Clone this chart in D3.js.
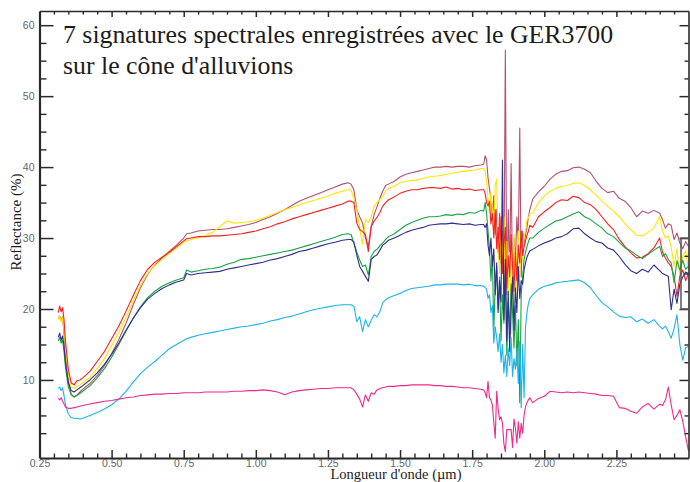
<!DOCTYPE html>
<html>
<head>
<meta charset="utf-8">
<script src="https://cdn.jsdelivr.net/npm/d3@7"></script>
<style>
  html, body { margin: 0; padding: 0; background: #fff; }
  svg { display: block; }
</style>
</head>
<body>
<svg id="chart" width="690" height="482"></svg>
<script>
// Wavelength sampling (µm), denser around the 1.4 and 1.9 µm water bands
const wavelengths = [
  0.315, 0.32, 0.325, 0.33, 0.335, 0.34, 0.35, 0.36, 0.37, 0.38, 0.39, 0.40,
  0.425, 0.45, 0.475, 0.50, 0.525, 0.55, 0.575, 0.60, 0.625, 0.65, 0.675, 0.70, 0.725, 0.75,
  0.76,
  0.775, 0.80, 0.825, 0.85, 0.875, 0.90, 0.925, 0.95, 0.975, 1.00, 1.025, 1.05, 1.075, 1.10, 1.125, 1.15, 1.175, 1.20, 1.225, 1.25, 1.275, 1.30,
  1.32, 1.33, 1.34, 1.35, 1.36, 1.37, 1.38, 1.39, 1.40, 1.41, 1.42, 1.43, 1.44, 1.45, 1.46,
  1.48, 1.50, 1.52, 1.54, 1.56, 1.58, 1.60, 1.62, 1.64, 1.66, 1.68, 1.70, 1.72, 1.74, 1.76, 1.78,
  1.790, 1.795, 1.800, 1.805, 1.810, 1.815, 1.820, 1.825, 1.830, 1.835, 1.840, 1.845, 1.850, 1.855, 1.860, 1.865,
  1.870, 1.875, 1.880, 1.885, 1.890, 1.895, 1.900, 1.905, 1.910, 1.915, 1.920, 1.925, 1.930, 1.935, 1.940, 1.945, 1.950,
  1.96, 1.98, 2.00, 2.02, 2.04, 2.06, 2.08, 2.10, 2.12, 2.14, 2.16, 2.18, 2.20, 2.22, 2.24, 2.26, 2.28, 2.30, 2.32, 2.34, 2.36, 2.38, 2.40,
  2.41, 2.42, 2.43, 2.44, 2.45, 2.46, 2.47, 2.48, 2.49, 2.50
];

// Reflectance (%) of the seven signatures
const sigMauve = [
  18.6, 19.0, 18.4, 18.9, 16.5, 13.5, 9.8, 8.0, 7.6, 7.9, 8.3, 8.7,
  9.5, 10.6, 12.0, 13.7, 15.7, 18.0, 20.6, 23.0, 24.9, 26.2, 27.2, 28.1, 29.0, 30.0,
  30.6,
  30.7, 31.0, 31.1, 31.2, 31.2, 31.3, 31.5, 31.7, 31.9, 32.2, 32.6, 33.0, 33.5, 34.0, 34.6, 35.2, 35.6, 36.0, 36.4, 36.8, 37.2, 37.6,
  37.8, 37.6, 36.8, 34.0, 33.0, 32.1, 30.0, 28.8, 31.6, 33.3, 34.4, 35.6, 36.6, 37.4, 37.6,
  38.0, 38.6, 39.0, 39.2, 39.4, 39.6, 39.8, 40.0, 40.0, 40.1, 40.0, 40.1, 40.1, 40.0, 40.2, 40.3,
  40.4, 41.6, 41.0, 38.5, 37.0, 35.5, 33.0, 36.0, 30.5, 34.0, 28.0, 33.5, 26.5, 31.0, 24.0, 56.5,
  22.0, 34.0, 25.0, 40.5, 23.0, 30.0, 27.0, 33.0, 29.0, 45.5, 24.5, 31.0, 29.0, 30.5, 31.5, 33.0, 34.0,
  35.5, 36.5, 37.3, 38.3, 39.0, 39.4, 39.5, 39.9, 40.0, 39.7, 39.2, 38.0, 37.0, 36.4, 36.6, 35.6, 35.2, 34.3, 33.0, 33.8, 33.5, 33.9, 33.5,
  32.6, 31.4, 32.0, 31.8, 29.8, 30.7, 29.3, 28.5, 29.5, 28.8
];
const sigYellow = [
  18.5, 19.0, 18.2, 18.8, 17.0, 14.5, 10.8, 9.0, 8.8, 9.1, 9.3, 9.6,
  10.4, 11.6, 13.0, 14.8, 16.7, 18.8, 21.1, 23.3, 25.0, 26.1, 27.0, 27.8, 28.6, 29.4,
  29.6,
  29.8, 30.0, 30.4, 30.8, 31.6, 32.4, 32.1, 32.2, 32.3, 32.5, 32.8, 33.2, 33.6, 34.0, 34.3, 34.7, 35.0, 35.3, 35.6, 35.9, 36.3, 36.6,
  36.8, 36.8, 35.6, 34.0, 31.4, 29.1, 32.6, 32.2, 33.0, 34.5, 35.0, 35.4, 35.9, 36.6, 37.0,
  37.3, 37.8, 38.0, 38.1, 38.2, 38.4, 38.6, 38.7, 38.8, 39.0, 39.1, 39.3, 39.4, 39.5, 39.6, 39.8,
  39.8, 39.5, 38.0, 35.5, 33.6, 36.5, 34.0, 30.5, 37.5, 38.3, 29.0, 25.0, 31.0, 27.0, 33.0, 24.0,
  29.5, 22.0, 28.0, 16.5, 26.0, 30.5, 21.0, 27.0, 31.0, 24.5, 28.5, 27.0, 30.2, 31.0, 32.6, 32.8, 33.5,
  33.5, 35.0, 35.9, 36.6, 37.0, 37.3, 37.4, 37.7, 37.8, 37.4, 36.8, 36.0, 35.2, 34.5, 33.8, 33.0, 32.0, 31.2, 30.4, 30.3, 30.8, 31.4, 33.0,
  31.0, 30.0, 30.3, 28.8, 26.0, 28.5, 24.6, 27.5, 28.2, 25.5
];
const sigRed = [
  19.5, 20.4, 19.6, 20.2, 18.5, 15.5, 11.5, 9.6, 9.3, 9.9, 10.0, 10.3,
  11.2, 12.6, 14.0, 15.8, 17.6, 19.7, 21.9, 24.0, 25.6, 26.6, 27.3, 28.0, 28.8, 29.6,
  29.9,
  30.0, 30.2, 30.2, 30.3, 30.3, 30.4, 30.5, 30.6, 30.8, 31.0, 31.3, 31.6, 32.0, 32.3, 32.7, 33.0, 33.3, 33.6, 33.9, 34.2, 34.5, 34.8,
  35.2, 35.2, 35.0, 32.1, 31.2, 30.9, 30.5, 28.1, 31.6, 32.4, 32.9, 33.6, 34.5, 35.0, 35.4,
  35.8, 36.3, 36.6, 36.8, 36.8, 37.0, 37.1, 37.1, 37.0, 37.2, 36.9, 37.0, 36.8, 36.9, 36.7, 36.8,
  36.8, 36.3, 35.0, 34.5, 35.2, 32.0, 33.5, 30.0, 34.0, 28.5, 31.5, 27.0, 33.0, 25.0, 29.0, 31.5,
  23.0, 27.5, 24.5, 30.5, 26.0, 22.5, 28.0, 24.0, 29.0, 26.5, 31.0, 27.5, 28.8, 29.6, 30.4, 31.0, 31.8,
  31.5, 33.0, 33.7, 34.3, 35.0, 35.4, 35.3, 35.9, 35.7, 35.0, 34.7, 34.0, 33.0, 32.0, 31.2, 29.8, 28.8, 27.9, 27.2, 27.3, 27.8, 28.6, 30.0,
  28.0, 27.2, 26.5, 26.0, 24.6, 21.8, 24.6, 25.5, 24.0, 25.0
];
const sigGreen = [
  15.5, 16.0, 15.2, 15.6, 14.0, 11.8, 9.0, 7.9, 7.6, 7.8, 8.1, 8.4,
  9.2, 10.3, 11.6, 13.2, 15.0, 16.9, 18.7, 20.3, 21.6, 22.5, 23.2, 23.7, 24.1, 24.4,
  25.5,
  25.2, 25.4, 25.6, 25.7, 25.9, 26.3, 26.6, 27.0, 27.1, 27.3, 27.5, 27.7, 27.9, 28.1, 28.3, 28.6, 28.9, 29.2, 29.5, 29.8, 30.1, 30.5,
  30.6, 30.5, 29.3, 28.0, 26.9, 26.0, 26.2, 24.8, 27.4, 28.1, 28.4, 28.9, 29.3, 29.8, 30.2,
  30.6, 31.2, 31.8, 32.2, 32.5, 32.8, 33.0, 33.0, 33.1, 33.3, 33.2, 33.4, 33.3, 33.6, 33.5, 33.9,
  33.8, 35.0, 33.5, 31.0, 28.5, 24.0, 27.5, 17.0, 23.5, 26.0, 20.0, 24.5, 15.5, 22.0, 18.0, 25.0,
  13.5, 21.0, 17.0, 23.5, 19.5, 14.5, 20.5, 12.0, 18.5, 6.8, 22.0, 24.5, 27.0, 28.0, 28.8, 29.5, 30.0,
  30.0, 30.8, 31.4, 31.9, 32.4, 32.6, 33.0, 33.4, 33.7, 33.0, 32.6, 32.0, 31.4, 30.6, 30.2, 29.4, 28.6, 28.2, 27.6, 27.1, 27.7, 28.3, 28.8,
  27.4, 27.8, 27.0, 26.5, 23.7, 26.8, 25.5, 26.9, 25.6, 26.0
];
const sigNavy = [
  16.0, 16.6, 15.6, 16.2, 14.8, 12.5, 9.6, 8.5, 8.3, 8.6, 8.9, 9.2,
  10.0, 11.0, 12.2, 13.6, 15.2, 17.0, 18.7, 20.2, 21.4, 22.2, 22.9, 23.4, 23.8, 24.1,
  25.0,
  24.8, 25.0, 25.1, 25.2, 25.3, 25.6, 25.8, 26.0, 26.2, 26.4, 26.6, 26.9, 27.1, 27.4, 27.7, 28.1, 28.3, 28.6, 28.9, 29.2, 29.4, 29.7,
  29.8, 29.8, 29.4, 27.6, 26.0, 25.3, 24.6, 23.9, 27.0, 27.4, 27.6, 28.3, 29.0, 29.3, 29.7,
  30.0, 30.4, 30.8, 31.1, 31.3, 31.5, 31.8, 31.9, 32.0, 32.0, 32.1, 32.0, 31.9, 32.0, 31.8, 31.9,
  31.9, 31.5, 32.0, 29.0, 27.5, 30.0, 26.0, 28.5, 22.0, 26.5, 19.5, 24.0, 21.0, 41.0, 18.5, 27.0,
  15.5, 22.5, 14.0, 20.0, 24.5, 17.0, 23.0, 19.5, 26.0, 21.5, 24.0, 23.5, 25.5, 26.5, 27.3, 27.8, 28.2,
  28.4, 28.9, 29.3, 29.6, 30.0, 30.2, 30.6, 31.3, 31.4, 30.6, 30.0, 29.5, 29.3, 28.6, 28.3, 27.4, 26.3, 25.4, 25.0, 25.6, 25.2, 26.2, 25.4,
  25.0, 24.8, 24.6, 19.9, 22.8, 20.8, 23.5, 24.5, 25.2, 25.0
];
const sigCyan = [
  8.8, 9.0, 8.5, 8.9, 7.8, 6.5, 5.2, 4.7, 4.6, 4.6, 4.5, 4.6,
  5.0, 5.4, 5.9, 6.5, 7.3, 8.4, 9.7, 10.9, 11.8, 12.6, 13.5, 14.4, 15.0, 15.6,
  15.8,
  16.0, 16.3, 16.5, 16.7, 16.9, 17.1, 17.3, 17.5, 17.6, 17.8, 18.0, 18.3, 18.5, 18.8, 19.0, 19.3, 19.6, 19.9, 20.1, 20.3, 20.5, 20.6,
  20.6, 20.6, 20.4, 18.2, 18.9, 16.8, 18.5, 17.5, 18.4, 19.2, 18.9, 19.6, 20.9, 21.3, 21.6,
  21.9, 22.2, 22.6, 22.9, 23.0, 23.1, 23.2, 23.4, 23.4, 23.5, 23.5, 23.5, 23.4, 23.5, 23.3, 23.3,
  23.2, 23.0, 22.8, 21.5, 22.0, 19.5, 20.5, 15.2, 17.5, 16.0, 14.0, 16.5, 12.5, 15.0, 11.0, 13.5,
  10.5, 14.5, 12.0, 16.0, 10.5, 13.0, 11.5, 14.5, 9.5, 15.5, 6.1, 15.0, 7.5, 17.5, 19.5, 20.8, 21.5,
  22.0, 22.8, 23.2, 23.4, 23.7, 23.8, 23.9, 24.0, 24.1, 23.7, 23.0, 21.9, 20.9, 20.3, 19.6, 19.0, 18.8, 18.9, 18.2, 18.6, 18.0, 18.5, 17.6,
  17.2, 17.6, 16.8, 15.9, 17.2, 19.2, 15.0, 12.8, 14.5, 14.8
];
const sigMagenta = [
  7.4, 7.2, 7.5, 7.0, 6.6, 6.2, 6.0, 6.0, 6.1, 6.2, 6.3, 6.4,
  6.6, 6.8, 7.0, 7.1, 7.3, 7.5, 7.6, 7.8, 7.9, 8.0, 8.0, 8.1, 8.1, 8.2,
  8.2,
  8.2, 8.2, 8.3, 8.3, 8.3, 8.3, 8.4, 8.4, 8.5, 8.5, 8.6, 8.5, 8.3, 7.9, 8.3, 8.5, 8.6, 8.7, 8.8, 8.8, 8.9, 8.9,
  8.9, 8.9, 8.6, 8.0, 7.3, 6.2, 7.9, 7.0, 8.2, 8.0, 8.6, 8.8, 8.9, 9.0, 9.1,
  9.1, 9.2, 9.2, 9.3, 9.3, 9.3, 9.3, 9.2, 9.2, 9.1, 9.1, 9.0, 8.9, 8.9, 8.8, 8.7,
  8.6, 8.2, 7.5, 9.8, 7.5, 7.2, 6.5, 4.0, 1.8, 8.4, 6.0, 4.4, 4.8, 3.9, 1.0, -0.1,
  3.0, 3.0, 3.0, 3.0, 0.5, 4.5, 3.2, 1.1, 4.1, 1.8, 3.9, 2.5, 5.0, 6.2, 6.8, 7.2, 7.5,
  6.8, 7.4, 7.7, 8.4, 8.3, 8.2, 8.3, 8.2, 8.3, 8.2, 8.1, 8.0, 7.8, 7.8, 7.7, 6.1, 6.0, 5.6, 5.3, 6.2, 6.7, 5.9, 6.6,
  6.4, 7.2, 9.0, 6.5, 4.4, 5.0, 5.8, 4.2, 2.0, 0.0
];

const signatures = [sigMauve, sigYellow, sigRed, sigGreen, sigNavy, sigCyan, sigMagenta];
const signatureColors = ["#b4506f", "#ffe600", "#f42020", "#18a244", "#2e2f8e", "#1cb3ee", "#f02a8c"];

// Axis ticks and labels
const xTickValues = [0.25, 0.50, 0.75, 1.00, 1.25, 1.50, 1.75, 2.00, 2.25];
const yTickValues = [10, 20, 30, 40, 50, 60];
const titleLines = ["7 signatures spectrales enregistrées avec le GER3700", "sur le cône d'alluvions"];
const xAxisTitle = "Longueur d'onde (µm)";
const yAxisTitle = "Reflectance (%)";

const svg = d3.select("#chart");
const plotLeft = 39.5, plotRight = 688.5, plotTop = 11, plotBottom = 458;
const serif = "'Liberation Serif', 'Times New Roman', 'DejaVu Serif', serif";
const sans = "'Liberation Sans', Arial, sans-serif";

const x = d3.scaleLinear().domain([0.25, 2.5]).range([plotLeft, plotRight]);
const y = d3.scaleLinear().domain([-1, 62]).range([plotBottom, plotTop]);

const xMinor = x.ticks(45).filter(t => xTickValues.every(m => Math.abs(m - t) > 1e-6) && t > 0.26 && t < 2.49);
const yMinor = d3.range(2.5, 60, 2.5).filter(t => t % 10 !== 0);

// Spectra
const plot = svg.append("g");
const line = d3.line()
  .defined(d => d[1] != null && !isNaN(d[1]))
  .x(d => x(d[0]))
  .y(d => y(d[1]));

signatures.forEach((vals, i) => {
  plot.append("path")
    .datum(wavelengths.map((w, k) => [w, vals[k]]))
    .attr("fill", "none")
    .attr("stroke", signatureColors[i])
    .attr("stroke-width", 1.1)
    .attr("stroke-linejoin", "round")
    .attr("d", line);
});

function styleAxis(g, width) {
  g.select(".domain").attr("stroke", "#2a2a2a").attr("stroke-width", width);
  g.selectAll(".tick line").attr("stroke", "#2a2a2a").attr("stroke-width", 1.5);
}
function styleMinor(g) {
  g.select(".domain").remove();
  g.selectAll(".tick line").attr("stroke", "#2a2a2a").attr("stroke-width", 1.4);
}

// Left axis with labels, ticks pointing inwards
const gLeft = svg.append("g").attr("transform", `translate(${plotLeft},0)`)
  .call(d3.axisLeft(y).tickValues(yTickValues).tickSizeInner(-14).tickSizeOuter(0).tickPadding(5));
styleAxis(gLeft, 2.2);
gLeft.selectAll(".tick text")
  .attr("font-family", sans)
  .attr("font-size", 10.5).attr("fill", "#666");
svg.append("g").attr("transform", `translate(${plotLeft},0)`)
  .call(d3.axisLeft(y).tickValues(yMinor).tickSizeInner(-7).tickSizeOuter(0).tickFormat(""))
  .call(styleMinor);

// Right axis, ticks only
const gRight = svg.append("g").attr("transform", `translate(${plotRight},0)`)
  .call(d3.axisRight(y).tickValues(yTickValues).tickSizeInner(-9).tickSizeOuter(0).tickFormat(""));
styleAxis(gRight, 1.6);
svg.append("g").attr("transform", `translate(${plotRight},0)`)
  .call(d3.axisRight(y).tickValues(yMinor).tickSizeInner(-4).tickSizeOuter(0).tickFormat(""))
  .call(styleMinor);

// Bottom axis with labels
const gBottom = svg.append("g").attr("transform", `translate(0,${plotBottom})`)
  .call(d3.axisBottom(x).tickValues(xTickValues).tickSizeInner(-8).tickSizeOuter(0).tickPadding(2).tickFormat(d3.format(".2f")));
styleAxis(gBottom, 2.2);
gBottom.selectAll(".tick text")
  .attr("font-family", sans)
  .attr("font-size", 10.5).attr("fill", "#666");
svg.append("g").attr("transform", `translate(0,${plotBottom})`)
  .call(d3.axisBottom(x).tickValues(xMinor).tickSizeInner(-4.5).tickSizeOuter(0).tickFormat(""))
  .call(styleMinor);

// Top axis, ticks only
const gTop = svg.append("g").attr("transform", `translate(0,${plotTop})`)
  .call(d3.axisTop(x).tickValues(xTickValues.filter(v => v > 0.3)).tickSizeInner(-6).tickSizeOuter(0).tickFormat(""));
styleAxis(gTop, 1.6);
svg.append("g").attr("transform", `translate(0,${plotTop})`)
  .call(d3.axisTop(x).tickValues(xMinor).tickSizeInner(-3.5).tickSizeOuter(0).tickFormat(""))
  .call(styleMinor);

// Small frame on the right edge
svg.append("rect")
  .attr("x", 681).attr("y", y(30)).attr("width", 12).attr("height", y(20) - y(30))
  .attr("fill", "none").attr("stroke", "#555").attr("stroke-width", 1.5);

// Title
const title = svg.append("text")
  .attr("font-family", serif)
  .attr("font-size", 25.8).attr("fill", "#1c1c1c");
titleLines.forEach((t, i) => {
  title.append("tspan").attr("font-family", serif).attr("x", 63).attr("y", 43 + i * 30.5).text(t);
});

// Axis titles
svg.append("text")
  .attr("x", 396).attr("y", 478.5)
  .attr("text-anchor", "middle")
  .attr("font-family", serif)
  .attr("font-size", 14.5).attr("fill", "#1c1c1c")
  .text(xAxisTitle);

svg.append("text")
  .attr("transform", "translate(21,222) rotate(-90)")
  .attr("text-anchor", "middle")
  .attr("font-family", serif)
  .attr("font-size", 15).attr("fill", "#1c1c1c")
  .text(yAxisTitle);
</script>
</body>
</html>
